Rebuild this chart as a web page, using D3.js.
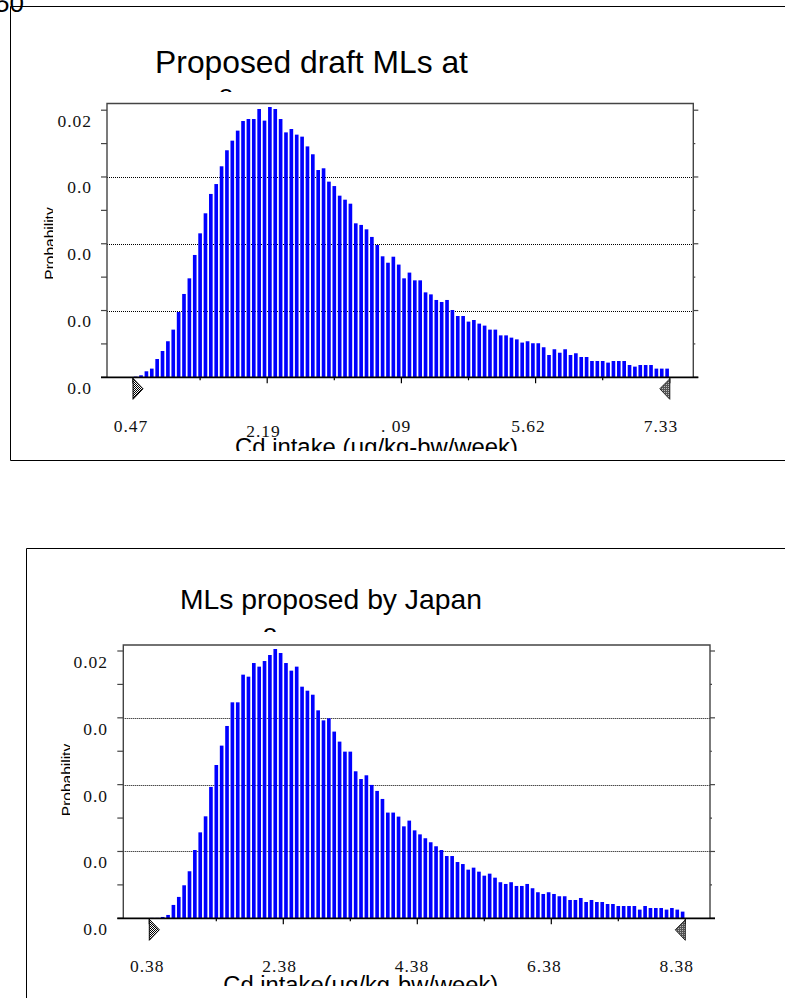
<!DOCTYPE html>
<html><head><meta charset="utf-8">
<script src="https://cdn.jsdelivr.net/npm/d3@7"></script>
<style>html,body{margin:0;padding:0;background:#fff;overflow:hidden}</style>
</head><body>
<svg id="c" width="785" height="998"></svg>
<script>
// ---------------- DATA ----------------
const cornerText = "50";
const topTitle = "Proposed draft MLs at";
const topSubTitle = "o";
const topXTitle = "Cd intake (\u03bcg/kg-bw/week)";
const topDomain = [0.47, 7.33];
const topTickLabels = ["0.47", "2.19", ". 09", "5.62", "7.33"];
const topValues = [
0.00005,0.00015,0.00045,0.00065,0.00137,0.00197,0.00270,0.00357,0.00489,0.00624,
0.00741,0.00916,0.01078,0.01228,0.01373,0.01447,0.01580,0.01700,0.01772,0.01847,
0.01919,0.01934,0.01934,0.02009,0.01922,0.02024,0.02009,0.01934,0.01834,0.01859,
0.01817,0.01802,0.01729,0.01670,0.01552,0.01565,0.01465,0.01432,0.01360,0.01330,
0.01300,0.01153,0.01141,0.01108,0.01051,0.00991,0.00906,0.00858,0.00903,0.00844,
0.00741,0.00784,0.00726,0.00726,0.00636,0.00621,0.00579,0.00564,0.00579,0.00504,
0.00459,0.00459,0.00417,0.00429,0.00402,0.00387,0.00357,0.00357,0.00314,0.00314,
0.00297,0.00284,0.00260,0.00270,0.00255,0.00255,0.00225,0.00167,0.00210,0.00184,
0.00210,0.00167,0.00180,0.00152,0.00152,0.00122,0.00122,0.00122,0.00110,0.00122,
0.00122,0.00122,0.00092,0.00080,0.00092,0.00092,0.00092,0.00065,0.00065,0.00065];

const bottomTitle = "MLs proposed by Japan";
const bottomSubTitle = "o";
const bottomXTitle = "Cd intake(\u03bcg/kg-bw/week)";
const bottomDomain = [0.38, 8.38];
const bottomTickLabels = ["0.38", "2.38", "4.38", "6.38", "8.38"];
const bottomValues = [
0.00003,0.00003,0.00010,0.00025,0.00100,0.00160,0.00247,0.00352,0.00511,0.00643,
0.00763,0.00983,0.01147,0.01292,0.01439,0.01616,0.01616,0.01823,0.01808,0.01910,
0.01883,0.01925,0.01970,0.02015,0.01985,0.01910,0.01853,0.01883,0.01733,0.01703,
0.01673,0.01556,0.01481,0.01496,0.01397,0.01322,0.01247,0.01247,0.01100,0.01042,
0.01070,0.00998,0.00953,0.00893,0.00791,0.00791,0.00761,0.00688,0.00731,0.00658,
0.00628,0.00599,0.00569,0.00539,0.00511,0.00466,0.00466,0.00421,0.00406,0.00364,
0.00379,0.00349,0.00319,0.00334,0.00304,0.00270,0.00257,0.00270,0.00242,0.00242,
0.00257,0.00225,0.00195,0.00182,0.00195,0.00182,0.00165,0.00165,0.00137,0.00137,
0.00152,0.00122,0.00137,0.00122,0.00122,0.00107,0.00107,0.00092,0.00092,0.00092,
0.00092,0.00065,0.00092,0.00077,0.00077,0.00077,0.00065,0.00077,0.00065,0.00050];

const yAxisTitle = "Probability";
const yTickValues = [0, 0.005, 0.01, 0.015, 0.02];
const yTickLabels = ["0.0", "0.0", "0.0", "0.0", "0.02"];
const yMax = 0.02;

// ---------------- LAYOUT ----------------
const LAYOUT_TOP = {
  frame: {x: 10.5, y: 6.5, bottom: 460.5},
  plot: {x0: 107, x1: 693.3, top: 103.5, base: 377.3, yTop: 110.2},
  xr: [133, 669.8], lr: [130.5, 660.5],
  title: {x: 311.5, y: 73.3, w: 313},
  sub: {x: 226, y: 102.5},
  ytitle: {x: 55, y: 243.5},
  panel: {x: 53, y: 92, h: 364},
  xlabelY: 431.5, labelDy: [0, 5, 0, 0, 0],
  ylabelX: 92, ylabelDy: 16.5,
  xtitle: {x: 376.5, y: 455, w: 283, clip: 451}
};
const LAYOUT_BOTTOM = {
  frame: {x: 26.5, y: 548.5, bottom: null},
  plot: {x0: 123.3, x1: 710, top: 645, base: 918.3, yTop: 651},
  xr: [149.3, 685.3], lr: [146.7, 676.3],
  title: {x: 331, y: 609, w: 302},
  sub: {x: 270, y: 641.5},
  ytitle: {x: 72, y: 780},
  panel: {x: 70, y: 632, h: 366},
  xlabelY: 971.5, labelDy: [0, 0, 0, 0, 0],
  ylabelX: 108, ylabelDy: 17,
  xtitle: {x: 360.8, y: 993, w: 275, clip: 986}
};

const SANS = "'Liberation Sans', Arial, sans-serif";
const SERIF = "'Liberation Serif', 'DejaVu Serif', serif";

const svg = d3.select("#c");
const defs = svg.append("defs");
const chk = defs.append("pattern").attr("id", "chk").attr("width", 2).attr("height", 2).attr("patternUnits", "userSpaceOnUse");
chk.append("rect").attr("width", 2).attr("height", 2).attr("fill", "#fff");
chk.append("rect").attr("width", 1).attr("height", 1).attr("fill", "#000");
chk.append("rect").attr("x", 1).attr("y", 1).attr("width", 1).attr("height", 1).attr("fill", "#000");
const gry = defs.append("pattern").attr("id", "gry").attr("width", 2).attr("height", 2).attr("patternUnits", "userSpaceOnUse");
gry.append("rect").attr("width", 2).attr("height", 2).attr("fill", "#555");
gry.append("rect").attr("width", 1).attr("height", 1).attr("fill", "#bbb");

function fitText(sel, width) {
  const w = sel.node().getComputedTextLength();
  const fs = parseFloat(sel.attr("font-size"));
  sel.attr("font-size", fs * width / w);
}

// corner number
svg.append("text").attr("x", 24).attr("y", 12).attr("text-anchor", "end")
  .attr("font-family", SANS).attr("font-size", 26).attr("fill", "#000").text(cornerText);

function drawChart(L, title, sub, xTitle, domain, values, tickLabels, id) {
  const g = svg.append("g");
  const f = L.frame;
  // outer frame
  let d = `M785,${f.y} H${f.x} V${f.bottom === null ? 1000 : f.bottom}`;
  if (f.bottom !== null) d += ` H785`;
  g.append("path").attr("d", d).attr("fill", "none").attr("stroke", "#000").attr("stroke-width", 1);

  // title
  const t = g.append("text").attr("x", L.title.x).attr("y", L.title.y).attr("text-anchor", "middle")
    .attr("font-family", SANS).attr("font-size", 30).attr("fill", "#000").text(title);
  fitText(t, L.title.w);
  g.append("text").attr("x", L.sub.x).attr("y", L.sub.y).attr("text-anchor", "middle")
    .attr("font-family", SANS).attr("font-size", 26).attr("fill", "#000").text(sub);

  // y title
  g.append("text").attr("transform", `translate(${L.ytitle.x},${L.ytitle.y}) rotate(-90)`)
    .attr("text-anchor", "middle").attr("font-family", SANS).attr("font-size", 15.5)
    .attr("fill", "#000").text(yAxisTitle);

  // panel background (hides overflow of titles)
  g.append("rect").attr("x", L.panel.x).attr("y", L.panel.y).attr("width", 785 - L.panel.x)
    .attr("height", L.panel.h).attr("fill", "#fff");

  const P = L.plot;
  const x = d3.scaleLinear().domain(domain).range(L.xr);
  const xl = d3.scaleLinear().domain(domain).range(L.lr);
  const y = d3.scaleLinear().domain([0, yMax]).range([P.base, P.yTop]);
  const band = d3.scaleBand().domain(d3.range(values.length)).range([x(domain[0]), x(domain[1])])
    .paddingInner(0.32).paddingOuter(0.16);

  // grid lines
  g.selectAll(".grid").data(yTickValues.filter(v => v > 0 && v < yMax)).join("line")
    .attr("x1", P.x0).attr("x2", P.x1).attr("y1", v => Math.round(y(v)) + 0.5).attr("y2", v => Math.round(y(v)) + 0.5)
    .attr("stroke", "#000").attr("stroke-width", 1).attr("stroke-dasharray", "1,1");

  // bars
  g.selectAll(".bar").data(values).join("rect")
    .attr("x", (v, i) => band(i)).attr("width", band.bandwidth())
    .attr("y", v => y(v)).attr("height", v => P.base - y(v))
    .attr("fill", "#0000ff");

  // plot frame
  g.append("path").attr("d", `M${P.x0},${P.base} V${P.top} H${P.x1} V${P.base}`)
    .attr("fill", "none").attr("stroke", "#444").attr("stroke-width", 1.4);

  // y ticks
  const yt = d3.range(9).map(k => k * yMax / 8);
  g.selectAll(".ytl").data(yt).join("line")
    .attr("x1", P.x0 - 6).attr("x2", P.x0).attr("y1", v => y(v)).attr("y2", v => y(v))
    .attr("stroke", "#444").attr("stroke-width", 1.2);
  g.selectAll(".ytr").data(yt).join("line")
    .attr("x1", P.x1).attr("x2", (v, i) => P.x1 + (i % 2 === 0 ? 5 : 2)).attr("y1", v => y(v)).attr("y2", v => y(v))
    .attr("stroke", "#444").attr("stroke-width", 1.2);

  // y labels
  g.selectAll(".yl").data(yTickValues).join("text")
    .attr("x", L.ylabelX).attr("y", v => y(v) + L.ylabelDy).attr("text-anchor", "end")
    .attr("font-family", SERIF).attr("font-size", 17.5).attr("letter-spacing", 1)
    .attr("fill", "#111").text((v, i) => yTickLabels[i]);

  // x axis line
  g.append("line").attr("x1", P.x0 - 6).attr("x2", P.x1 + 5).attr("y1", P.base).attr("y2", P.base)
    .attr("stroke", "#000").attr("stroke-width", 1.8);

  // x ticks
  const xt = d3.range(9).map(k => domain[0] + k * (domain[1] - domain[0]) / 8);
  g.selectAll(".xt").data(xt).join("line")
    .attr("x1", v => x(v)).attr("x2", v => x(v)).attr("y1", P.base)
    .attr("y2", (v, i) => P.base + (i % 2 === 0 ? 6 : 3))
    .attr("stroke", "#000").attr("stroke-width", 1.2);

  // x labels
  const labelVals = xt.filter((v, i) => i % 2 === 0);
  g.selectAll(".xl").data(labelVals).join("text")
    .attr("x", v => xl(v) + 0.5).attr("y", (v, i) => L.xlabelY + L.labelDy[i])
    .attr("text-anchor", "middle").attr("font-family", SERIF).attr("font-size", 17.5)
    .attr("letter-spacing", 1).attr("fill", "#111").text((v, i) => tickLabels[i]);

  // range markers (triangles)
  const x0 = x(domain[0]), x1 = x(domain[1]);
  g.append("path").attr("d", `M${x0},${P.base + 1} V${P.base + 22} L${x0 + 10},${P.base + 11.5} Z`)
    .attr("fill", "url(#chk)").attr("stroke", "#000").attr("stroke-width", 1);
  g.append("path").attr("d", `M${x1},${P.base + 1.5} V${P.base + 22} L${x1 - 10},${P.base + 11.5} Z`)
    .attr("fill", "url(#gry)").attr("stroke", "#222").attr("stroke-width", 1);

  // x title with clip
  defs.append("clipPath").attr("id", "clip" + id).append("rect")
    .attr("x", 0).attr("y", 0).attr("width", 785).attr("height", L.xtitle.clip);
  const xtT = g.append("text").attr("x", L.xtitle.x).attr("y", L.xtitle.y).attr("text-anchor", "middle")
    .attr("font-family", SANS).attr("font-size", 24).attr("fill", "#000")
    .attr("clip-path", `url(#clip${id})`).text(xTitle);
  fitText(xtT, L.xtitle.w);
}

drawChart(LAYOUT_TOP, topTitle, topSubTitle, topXTitle, topDomain, topValues, topTickLabels, "a");
drawChart(LAYOUT_BOTTOM, bottomTitle, bottomSubTitle, bottomXTitle, bottomDomain, bottomValues, bottomTickLabels, "b");
</script>
</body></html>
